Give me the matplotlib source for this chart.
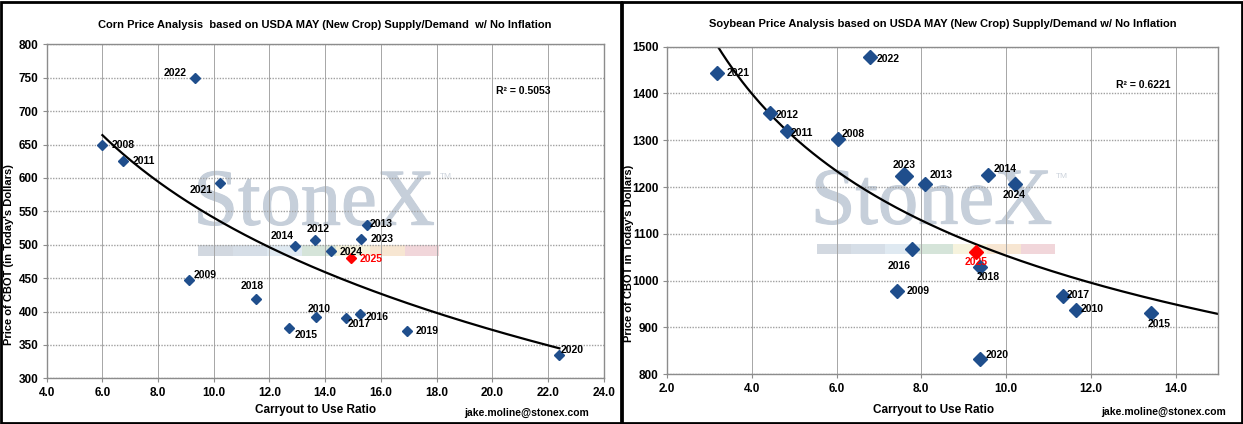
import numpy as np
import matplotlib
matplotlib.use("Agg")
import matplotlib.pyplot as plt
import matplotlib.patheffects as pe
from matplotlib.patches import Rectangle

plt.rcParams['font.family'] = ['Liberation Sans', 'DejaVu Sans']

# Corn: carryout to use ratio vs price (today's dollars)
corn_years = ['2008', '2011', '2022', '2021', '2009', '2018', '2014', '2012', '2024',
              '2013', '2023', '2010', '2015', '2017', '2016', '2019', '2020', '2025']
corn_ratio = [6.0, 6.75, 9.34, 10.22, 9.12, 11.52, 12.9, 13.65, 14.22,
              15.51, 15.28, 13.68, 12.7, 14.76, 15.24, 16.95, 22.41, 14.93]
corn_price = [650, 625, 749, 592, 447, 419, 498, 507, 491,
              529, 509, 392, 375, 391, 396, 371, 335, 480]
corn_r2 = 'R² = 0.5053'
# log trend y = a + b*ln(x)
corn_trend = (1098.0, -242.2)

# Soybeans
soy_years = ['2021', '2022', '2012', '2011', '2008', '2023', '2013', '2014', '2024',
             '2016', '2018', '2009', '2017', '2010', '2015', '2020', '2025']
soy_ratio = [3.18, 6.78, 4.43, 4.84, 6.03, 7.6, 8.09, 9.57, 10.2,
             7.78, 9.39, 7.43, 11.34, 11.65, 13.41, 9.39, 9.3]
soy_price = [1444, 1479, 1359, 1320, 1303, 1224, 1206, 1226, 1206,
             1068, 1030, 977, 967, 937, 930, 832, 1061]
soy_r2 = 'R² = 0.6221'
# power trend y = a * x**b
soy_trend = (2152.0, -0.3102)

# label placement (ha, dx, dy in points)
corn_lab = {'2008': ('left', 7, 0), '2011': ('left', 7, 0), '2022': ('right', -6, 4),
            '2021': ('right', -5, -5), '2009': ('left', 3, 3.5), '2018': ('center', -3, 9),
            '2014': ('right', -1, 7), '2012': ('center', 2, 8), '2024': ('left', 6, -1),
            '2013': ('left', 2, 1), '2023': ('left', 7, 0), '2010': ('center', 2, 6),
            '2015': ('left', 4, -5), '2017': ('left', 1, -5), '2016': ('left', 4, -2),
            '2019': ('left', 6, 0), '2020': ('left', 1, 3.5), '2025': ('left', 6, -1)}
soy_lab = {'2021': ('left', 7, 0), '2022': ('left', 5, -1.5), '2012': ('left', 4, -2),
           '2011': ('left', 2, -1.5), '2008': ('left', 3, 3.5), '2023': ('center', 0, 7.5),
           '2013': ('left', 3, 6.5), '2014': ('left', 4, 4.5), '2024': ('center', 0, -7.5),
           '2016': ('center', -9, -12), '2018': ('center', 6, -7.5), '2009': ('left', 7, 0),
           '2017': ('left', 3, 1), '2010': ('left', 3, 1), '2015': ('center', 6, -7.5),
           '2020': ('left', 4, 3), '2025': ('center', 0, -7)}

stripe_colors = ['#d2d8e0', '#d6dee7', '#dfe9f1', '#d5e4d9', '#f6f3dd', '#f7e6d2', '#f1d6da']
blue = '#1f4e8c'
W, H = 1243, 424


def watermark(ax):
    wm = '#c6cfda'
    ax.text(0.48, 0.46, 'StoneX', transform=ax.transAxes, ha='center', va='baseline',
            fontsize=58, family='Liberation Serif', color=wm, zorder=0.3,
            path_effects=[pe.withStroke(linewidth=0.8, foreground=wm)])
    ax.text(0.717, 0.603, 'TM', transform=ax.transAxes, ha='center', va='center',
            fontsize=6, color='#ccd3dc', zorder=0.3)
    n = len(stripe_colors)
    x0, x1 = 0.272, 0.705
    for i, c in enumerate(stripe_colors):
        ax.add_patch(Rectangle((x0 + i * (x1 - x0) / n, 0.366), (x1 - x0) / n, 0.032,
                               transform=ax.transAxes, facecolor=c, edgecolor='none', zorder=0.2))


def style(ax, xlim, ylim, xticks, yticks):
    ax.set_xlim(*xlim)
    ax.set_ylim(*ylim)
    ax.set_xticks(xticks)
    ax.set_yticks(yticks)
    ax.set_xticklabels([f'{v:.1f}' for v in xticks])
    ax.set_yticklabels([f'{v:d}' for v in yticks])
    ax.xaxis.grid(True, color='#a6a6a6', lw=0.7, zorder=0.5)
    ax.yaxis.grid(True, color='#a0a0a0', lw=1.0, ls=(0, (1, 1)), zorder=0.5)
    ax.set_axisbelow(True)
    for s in ax.spines.values():
        s.set_color('#8c8c8c')
        s.set_linewidth(1.0)
    ax.tick_params(length=3, color='#8c8c8c', labelsize=8.5, pad=3)
    for t in ax.get_xticklabels() + ax.get_yticklabels():
        t.set_fontweight('bold')


def scatter(ax, years, xs, ys, labels, ms, big=()):
    for yr, x, y in zip(years, xs, ys):
        col = 'red' if yr == '2025' else blue
        m = ms + 2 if yr in big else ms
        ax.plot(x, y, marker='D', ms=m, color=col, mec=col, ls='none', zorder=3)
        ha, dx, dy = labels[yr]
        ax.annotate(yr, (x, y), xytext=(dx, dy), textcoords='offset points', ha=ha,
                    va='center', fontsize=7.5, fontweight='bold',
                    color='red' if yr == '2025' else 'black', zorder=4)


fig = plt.figure(figsize=(W / 100, H / 100), dpi=100)

# ---- corn
ax1 = fig.add_axes([46.7 / W, (H - 378.3) / H, 557 / W, 334 / H])
style(ax1, (4, 24), (300, 800), np.arange(4, 24.1, 2), list(range(300, 801, 50)))
watermark(ax1)
xx = np.linspace(min(corn_ratio[:-1]), max(corn_ratio[:-1]), 200)
ax1.plot(xx, corn_trend[0] + corn_trend[1] * np.log(xx), color='black', lw=1.6, zorder=2)
scatter(ax1, corn_years, corn_ratio, corn_price, corn_lab, 5)
ax1.text(20.15, 730, corn_r2, fontsize=7.5, fontweight='bold', va='center')
ax1.set_title('Corn Price Analysis  based on USDA MAY (New Crop) Supply/Demand  w/ No Inflation',
              fontsize=8, fontweight='bold', pad=12)
ax1.set_xlabel('Carryout to Use Ratio', fontsize=8.5, fontweight='bold')
ax1.xaxis.set_label_coords(0.482, -0.077)
ax1.set_ylabel("Price of CBOT (in Today's Dollars)", fontsize=8, fontweight='bold')
ax1.yaxis.set_label_coords(-0.0587, 0.37)
fig.text(589 / W, 1 - 413 / H, 'jake.moline@stonex.com', ha='right', va='center',
         fontsize=7.5, fontweight='bold')

# ---- soybeans
ax2 = fig.add_axes([667 / W, (H - 374.3) / H, 551 / W, 327.6 / H])
style(ax2, (2, 15), (800, 1500), np.arange(2, 14.1, 2), list(range(800, 1501, 100)))
watermark(ax2)
xx = np.linspace(min(soy_ratio), 15, 200)
ax2.plot(xx, soy_trend[0] * xx ** soy_trend[1], color='black', lw=1.6, zorder=2)
scatter(ax2, soy_years, soy_ratio, soy_price, soy_lab, 7, big=('2023',))
ax2.text(12.6, 1418, soy_r2, fontsize=7.5, fontweight='bold', va='center')
ax2.set_title('Soybean Price Analysis based on USDA MAY (New Crop) Supply/Demand w/ No Inflation',
              fontsize=8, fontweight='bold', pad=14)
ax2.set_xlabel('Carryout to Use Ratio', fontsize=8.5, fontweight='bold')
ax2.xaxis.set_label_coords(0.4846, -0.091)
ax2.set_ylabel("Price of CBOT in Today's Dollars)", fontsize=8, fontweight='bold')
ax2.yaxis.set_label_coords(-0.060, 0.37)
fig.text(1226 / W, 1 - 412 / H, 'jake.moline@stonex.com', ha='right', va='center',
         fontsize=7.5, fontweight='bold')

# panel frames
for x0, x1 in [(1, 620.5), (621.5, 1242)]:
    fig.patches.append(Rectangle((x0 / W, 1.5 / H), (x1 - x0) / W, (H - 3) / H,
                                 transform=fig.transFigure, fill=False,
                                 edgecolor='black', lw=2))

fig.savefig('out.png', dpi=100)
